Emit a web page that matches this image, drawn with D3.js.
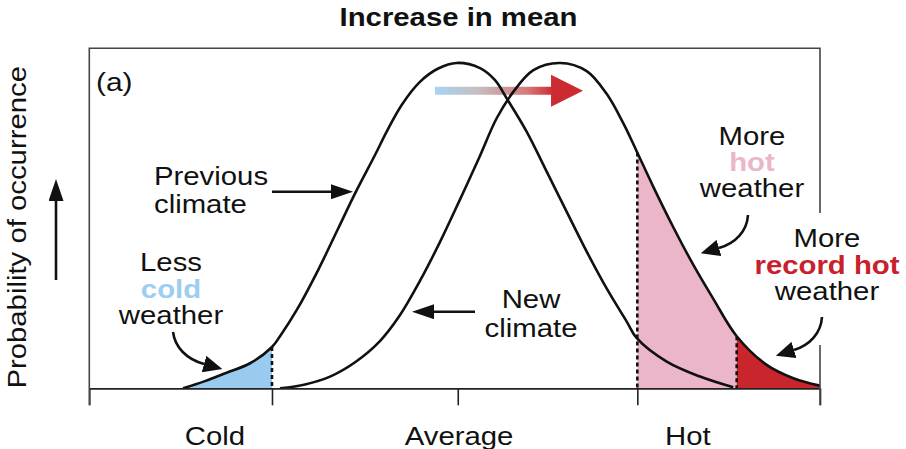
<!DOCTYPE html>
<html><head><meta charset="utf-8">
<script src="https://cdn.jsdelivr.net/npm/d3@7"></script>
<style>
html,body{margin:0;padding:0;background:#fff;}
svg{display:block;}
text{font-family:"Liberation Sans",Arial,Helvetica,sans-serif;fill:#111;}
</style>
</head><body>
<svg id="chart" width="906" height="449"></svg>
<script>
// ---------- data (temperature in arbitrary units, Average = 0; probability relative to peak) ----------
const categoryLabels = ["Cold", "Average", "Hot"];
const categoryAt = [-1.312, 0.024, 1.277];
const tickValues = [-2, -1, 0.017, 1, 2];

const previousX = [-1.487, -1.367, -1.248, -1.120, -1.000, -0.956, -0.865, -0.746, -0.637, -0.545, -0.436, -0.372, -0.290, -0.190, -0.090, 0.011, 0.139, 0.221, 0.285, 0.394, 0.504, 0.613, 0.723, 0.832, 0.942, 0.997, 1.161, 1.343, 1.525];
const previousP = [0.0, 0.022, 0.048, 0.077, 0.127, 0.160, 0.240, 0.365, 0.492, 0.599, 0.717, 0.789, 0.871, 0.942, 0.983, 1.0, 0.984, 0.947, 0.891, 0.789, 0.666, 0.543, 0.420, 0.307, 0.205, 0.154, 0.082, 0.036, 0.003];

const newX = [-0.956, -0.819, -0.682, -0.545, -0.409, -0.299, -0.190, -0.080, 0.029, 0.139, 0.230, 0.321, 0.431, 0.577, 0.723, 0.832, 0.923, 0.997, 1.087, 1.197, 1.306, 1.416, 1.544, 1.708, 1.854, 2.0];
const newP = [0.0, 0.012, 0.036, 0.080, 0.145, 0.225, 0.330, 0.450, 0.580, 0.715, 0.830, 0.911, 0.978, 1.0, 0.975, 0.905, 0.815, 0.728, 0.620, 0.495, 0.380, 0.275, 0.160, 0.072, 0.031, 0.008];

const coldThreshold = -1;
const hotThreshold = 1;
const recordThreshold = 1.544;

// ---------- layout ----------
const SX = 1.15;           // horizontal stretch of the lettering
const FS = 25.5;
const svg = d3.select("#chart");
const x = d3.scaleLinear().domain([-2, 2]).range([89.3, 820]);
const y = d3.scaleLinear().domain([0, 1.045]).range([388.3, 48.3]);

const prev = previousX.map((u, i) => ({u, p: previousP[i]}));
const next = newX.map((u, i) => ({u, p: newP[i]}));

const defs = svg.append("defs");
const grad = defs.append("linearGradient").attr("id", "shift")
  .attr("gradientUnits", "userSpaceOnUse").attr("x1", 435).attr("x2", 583).attr("y1", 0).attr("y2", 0);
[[0, "#a9d3f0"], [0.28, "#c4c0c4"], [0.62, "#d77a7a"], [0.8, "#cc2a31"], [1, "#cc2a31"]]
  .forEach(([o, c]) => grad.append("stop").attr("offset", o).attr("stop-color", c));

function marker(id, len, half) {
  defs.append("marker").attr("id", id).attr("markerUnits", "userSpaceOnUse")
    .attr("viewBox", `0 ${-half} ${len} ${2 * half}`).attr("refX", 0).attr("refY", 0)
    .attr("markerWidth", len).attr("markerHeight", 2 * half).attr("orient", "auto")
    .append("path").attr("d", `M0,${-half} L${len},0 L0,${half} Z`).attr("fill", "#111");
}
marker("headStraight", 22, 7.5);
marker("headCurve", 19, 8.5);

function clipRect(id, u0, u1) {
  defs.append("clipPath").attr("id", id).append("rect")
    .attr("x", x(u0)).attr("y", 0).attr("width", x(u1) - x(u0)).attr("height", y(0));
}
clipRect("clipCold", -2, coldThreshold);
clipRect("clipHot", hotThreshold, recordThreshold);
clipRect("clipRecord", recordThreshold, 2);
clipRect("clipPlot", -2, 2);

const curve = d3.curveCatmullRom.alpha(0.5);
const line = d3.line().x(d => x(d.u)).y(d => y(d.p)).curve(curve);
const area = d3.area().x(d => x(d.u)).y0(y(0)).y1(d => y(d.p)).curve(curve);

// shaded tails
svg.append("path").attr("d", area(prev)).attr("fill", "#98cbef").attr("clip-path", "url(#clipCold)");
svg.append("path").attr("d", area(next)).attr("fill", "#ebb6c9").attr("clip-path", "url(#clipHot)");
svg.append("path").attr("d", area(next)).attr("fill", "#c9252d").attr("clip-path", "url(#clipRecord)");

// shift arrow (under the curves)
svg.append("path")
  .attr("d", "M435,86.7 L551,86.7 L551,74.7 L583,90.7 L551,106.7 L551,94.7 L435,94.7 Z")
  .attr("fill", "url(#shift)");

// curves
const prevPath = svg.append("path").attr("d", line(prev)).attr("fill", "none")
  .attr("stroke", "#111").attr("stroke-width", 2.6).attr("clip-path", "url(#clipPlot)");
const newPath = svg.append("path").attr("d", line(next)).attr("fill", "none")
  .attr("stroke", "#111").attr("stroke-width", 2.6).attr("clip-path", "url(#clipPlot)");

function yAtPx(node, px) {
  let lo = 0, hi = node.getTotalLength();
  for (let k = 0; k < 40; k++) {
    const mid = (lo + hi) / 2;
    if (node.getPointAtLength(mid).x < px) lo = mid; else hi = mid;
  }
  return node.getPointAtLength((lo + hi) / 2).y;
}
// dashed threshold lines
[[prevPath, coldThreshold], [newPath, hotThreshold], [newPath, recordThreshold]].forEach(([p, t]) => {
  svg.append("line").attr("x1", x(t)).attr("x2", x(t))
    .attr("y1", yAtPx(p.node(), x(t))).attr("y2", y(0))
    .attr("stroke", "#111").attr("stroke-width", 2.6).attr("stroke-dasharray", "4,3");
});

// axis
const axis = svg.append("g").attr("transform", `translate(0,${y(0)})`)
  .call(d3.axisBottom(x).tickValues(tickValues).tickSize(17).tickSizeOuter(0).tickFormat(""));
axis.select(".domain").attr("stroke", "#222").attr("stroke-width", 1.8);
axis.selectAll(".tick line").attr("stroke", "#222").attr("stroke-width", 1.6);

// frame
const frame = svg.append("g").attr("stroke", "#444").attr("stroke-width", 1.6).attr("fill", "none");
frame.append("path").attr("d", `M${x(-2)},${y(0) + 17} V${y(1.045)} H${x(2)} V213`);
frame.append("path").attr("d", `M${x(2)},345 V${y(0) + 17}`);

// category labels
categoryLabels.forEach((c, i) => {
  svg.append("text").attr("transform", `translate(${x(categoryAt[i])},444.5) scale(${SX},1)`)
    .attr("text-anchor", "middle").attr("font-size", FS).text(c);
});

// title, panel letter, y label
svg.append("text").attr("transform", `translate(458.5,26) scale(${SX},1)`)
  .attr("text-anchor", "middle").attr("font-size", FS).attr("font-weight", "bold").text("Increase in mean");
svg.append("text").attr("transform", `translate(96,91) scale(${SX},1)`)
  .attr("font-size", FS + 0.5).text("(a)");
svg.append("text").attr("transform", `translate(25.5,227.3) rotate(-90) scale(${SX},1)`)
  .attr("text-anchor", "middle").attr("font-size", FS).text("Probability of occurrence");

function block(x0, y0, lh, anchor, lines) {
  lines.forEach((l, i) => {
    const t = svg.append("text").attr("transform", `translate(${x0},${y0 + i * lh}) scale(${SX},1)`)
      .attr("text-anchor", anchor).attr("font-size", FS).text(l.t);
    if (l.bold) t.attr("font-weight", "bold");
    if (l.color) t.style("fill", l.color);
  });
}
block(154, 185, 28, "start", [{t: "Previous"}, {t: "climate"}]);
block(531, 308.3, 29, "middle", [{t: "New"}, {t: "climate"}]);
block(171, 271.3, 26.2, "middle", [{t: "Less"}, {t: "cold", bold: true, color: "#9dcdf0"}, {t: "weather"}]);
block(752, 145, 26.2, "middle", [{t: "More"}, {t: "hot", bold: true, color: "#ebb6c9"}, {t: "weather"}]);
block(827, 247.3, 26.2, "middle", [{t: "More"}, {t: "record hot", bold: true, color: "#c8202c"}, {t: "weather"}]);

// arrows
const arr = svg.append("g").attr("fill", "none").attr("stroke", "#111").attr("stroke-width", 2.6);
arr.append("path").attr("d", "M272,191.7 H331").attr("marker-end", "url(#headStraight)");
arr.append("path").attr("d", "M475,311.7 H434").attr("marker-end", "url(#headStraight)");
arr.append("path").attr("d", "M56,280 V201").attr("marker-end", "url(#headStraight)");
arr.append("path").attr("d", "M173,332 C175,347 186,359 204,364").attr("marker-end", "url(#headCurve)");
arr.append("path").attr("d", "M748,215 C747,231 736,243 719,248").attr("marker-end", "url(#headCurve)");
arr.append("path").attr("d", "M822,317 C821,333 810,345 794,350").attr("marker-end", "url(#headCurve)");
</script>
</body></html>
